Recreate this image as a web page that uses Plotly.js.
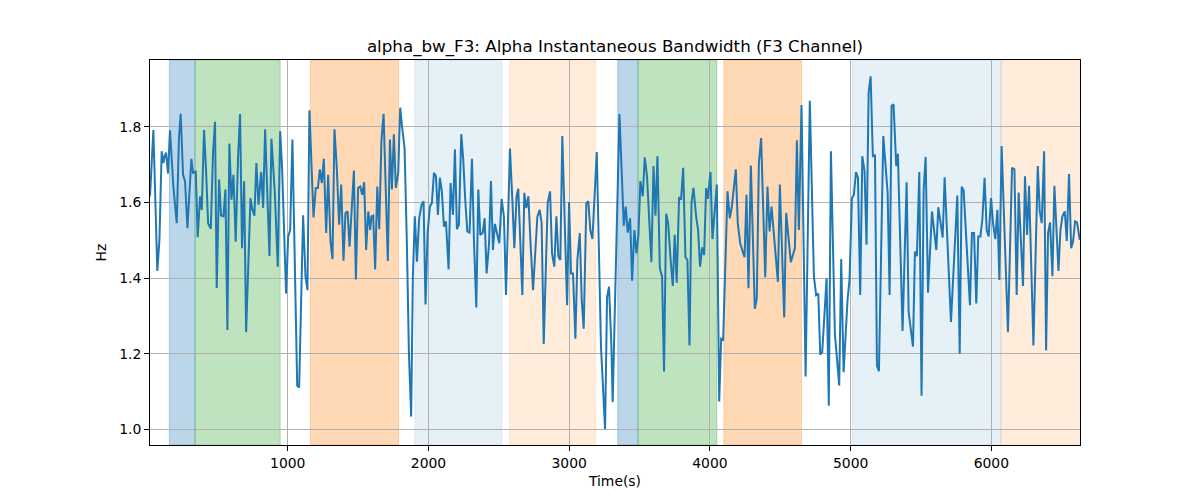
<!DOCTYPE html>
<html>
<head>
<meta charset="utf-8">
<script src="https://cdn.plot.ly/plotly-3.0.1.min.js"></script>
<style>
  body { margin: 0; background: #fff; }
  #chart { width: 1200px; height: 500px; }
</style>
</head>
<body>
<div id="chart"></div>
<script>
// time (s) and alpha bandwidth (Hz)
const timeS = [
  21, 45, 73, 88, 104, 116, 125, 135, 149, 163, 187, 211, 227, 239, 256, 270, 287, 315, 327, 346,
  360, 377, 389, 405, 419, 434, 453, 469, 483, 495, 512, 526, 543, 557, 571, 585, 600, 614, 630, 647,
  661, 675, 690, 704, 735, 749, 763, 777, 792, 811, 825, 839, 853, 870, 884, 908, 929, 946, 960, 988,
  1003, 1017, 1033, 1067, 1081, 1109, 1126, 1140, 1154, 1169, 1183, 1199, 1214, 1228, 1242, 1256, 1273, 1287, 1304, 1318,
  1332, 1349, 1365, 1380, 1396, 1410, 1425, 1439, 1455, 1470, 1484, 1500, 1515, 1529, 1543, 1557, 1572, 1586, 1595, 1607,
  1621, 1636, 1650, 1666, 1681, 1697, 1711, 1726, 1740, 1754, 1768, 1785, 1799, 1813, 1830, 1847, 1861, 1877, 1889, 1903,
  1918, 1934, 1951, 1965, 1979, 1994, 2010, 2024, 2039, 2053, 2067, 2081, 2095, 2110, 2124, 2143, 2157, 2174, 2188, 2202,
  2216, 2233, 2247, 2261, 2276, 2292, 2309, 2323, 2340, 2354, 2368, 2385, 2399, 2413, 2430, 2444, 2458, 2472, 2489, 2503,
  2520, 2536, 2551, 2565, 2579, 2596, 2610, 2626, 2638, 2667, 2681, 2695, 2710, 2724, 2743, 2774, 2790, 2804, 2819, 2847,
  2864, 2878, 2894, 2909, 2923, 2937, 2951, 2985, 2999, 3013, 3027, 3044, 3058, 3075, 3089, 3103, 3122, 3136, 3150, 3165,
  3181, 3196, 3226, 3241, 3255, 3269, 3283, 3300, 3309, 3357, 3371, 3388, 3402, 3416, 3433, 3447, 3463, 3478, 3492, 3506,
  3523, 3537, 3553, 3570, 3584, 3599, 3613, 3627, 3644, 3660, 3674, 3689, 3703, 3719, 3736, 3750, 3764, 3781, 3795, 3810,
  3826, 3840, 3855, 3869, 3883, 3902, 3916, 3930, 3945, 3959, 3973, 3985, 4004, 4018, 4035, 4049, 4066, 4080, 4094, 4125,
  4141, 4156, 4184, 4198, 4215, 4246, 4260, 4274, 4291, 4319, 4333, 4348, 4364, 4393, 4409, 4424, 4438, 4483, 4497, 4528,
  4542, 4575, 4604, 4618, 4632, 4651, 4680, 4710, 4739, 4755, 4770, 4784, 4798, 4829, 4845, 4860, 4888, 4919, 4933, 4950,
  4978, 4992, 5009, 5023, 5038, 5052, 5068, 5083, 5099, 5113, 5128, 5142, 5158, 5173, 5187, 5201, 5232, 5246, 5263, 5277,
  5291, 5305, 5324, 5336, 5369, 5398, 5412, 5443, 5457, 5471, 5488, 5504, 5519, 5533, 5550, 5578, 5592, 5609, 5623, 5654,
  5668, 5713, 5758, 5775, 5789, 5803, 5848, 5862, 5877, 5893, 5907, 5922, 5936, 5952, 5967, 5981, 5998, 6012, 6028, 6043,
  6057, 6073, 6118, 6147, 6164, 6180, 6194, 6225, 6239, 6254, 6268, 6299, 6330, 6344, 6358, 6375, 6389, 6403, 6417, 6434,
  6448, 6477, 6491, 6505, 6522, 6536, 6552, 6567, 6581, 6595, 6609, 6628
];

const alphaBw = [
  1.616, 1.791, 1.419, 1.501, 1.735, 1.704, 1.722, 1.731, 1.676, 1.790, 1.642, 1.545, 1.771, 1.834, 1.673, 1.656, 1.532, 1.715, 1.678, 1.681,
  1.508, 1.616, 1.580, 1.791, 1.687, 1.545, 1.530, 1.731, 1.813, 1.374, 1.660, 1.565, 1.563, 1.634, 1.263, 1.755, 1.607, 1.673, 1.496, 1.722,
  1.833, 1.479, 1.656, 1.257, 1.611, 1.580, 1.565, 1.704, 1.594, 1.680, 1.585, 1.793, 1.642, 1.458, 1.768, 1.625, 1.430, 1.788, 1.687, 1.359,
  1.510, 1.527, 1.766, 1.116, 1.111, 1.566, 1.404, 1.368, 1.843, 1.687, 1.560, 1.638, 1.638, 1.687, 1.651, 1.715, 1.519, 1.673, 1.494, 1.450,
  1.793, 1.687, 1.541, 1.647, 1.446, 1.572, 1.576, 1.483, 1.572, 1.684, 1.396, 1.638, 1.642, 1.620, 1.653, 1.474, 1.576, 1.527, 1.563, 1.565,
  1.423, 1.642, 1.529, 1.766, 1.834, 1.634, 1.445, 1.766, 1.634, 1.780, 1.638, 1.678, 1.850, 1.797, 1.744, 1.483, 1.200, 1.034, 1.404, 1.563,
  1.443, 1.558, 1.594, 1.603, 1.330, 1.519, 1.589, 1.598, 1.678, 1.669, 1.567, 1.665, 1.629, 1.536, 1.550, 1.423, 1.651, 1.567, 1.740, 1.529,
  1.541, 1.780, 1.713, 1.607, 1.523, 1.520, 1.715, 1.501, 1.322, 1.634, 1.514, 1.519, 1.558, 1.412, 1.488, 1.656, 1.474, 1.543, 1.519, 1.492,
  1.609, 1.563, 1.355, 1.519, 1.742, 1.607, 1.479, 1.616, 1.636, 1.355, 1.625, 1.585, 1.616, 1.501, 1.368, 1.563, 1.580, 1.545, 1.226, 1.598,
  1.629, 1.465, 1.430, 1.563, 1.457, 1.448, 1.775, 1.328, 1.600, 1.412, 1.412, 1.240, 1.448, 1.519, 1.342, 1.266, 1.598, 1.603, 1.527, 1.503,
  1.634, 1.733, 1.218, 1.107, 1.001, 1.350, 1.377, 1.218, 1.072, 1.833, 1.696, 1.538, 1.589, 1.520, 1.558, 1.393, 1.527, 1.465, 1.514, 1.656,
  1.616, 1.719, 1.669, 1.536, 1.442, 1.696, 1.565, 1.722, 1.426, 1.404, 1.153, 1.570, 1.545, 1.457, 1.379, 1.514, 1.388, 1.614, 1.607, 1.691,
  1.455, 1.448, 1.222, 1.598, 1.638, 1.563, 1.527, 1.430, 1.481, 1.461, 1.638, 1.609, 1.680, 1.503, 1.572, 1.647, 1.074, 1.240, 1.237, 1.629,
  1.558, 1.589, 1.687, 1.545, 1.492, 1.455, 1.620, 1.373, 1.697, 1.319, 1.346, 1.704, 1.770, 1.402, 1.642, 1.523, 1.589, 1.390, 1.647, 1.296,
  1.572, 1.442, 1.479, 1.764, 1.527, 1.857, 1.140, 1.868, 1.404, 1.355, 1.359, 1.198, 1.204, 1.399, 1.063, 1.735, 1.253, 1.116, 1.450, 1.151,
  1.342, 1.395, 1.611, 1.620, 1.680, 1.665, 1.355, 1.722, 1.682, 1.488, 1.890, 1.933, 1.722, 1.724, 1.169, 1.154, 1.775, 1.704, 1.625, 1.355,
  1.855, 1.859, 1.696, 1.728, 1.260, 1.653, 1.311, 1.219, 1.470, 1.458, 1.680, 1.089, 1.634, 1.720, 1.361, 1.576, 1.536, 1.474, 1.587, 1.507,
  1.666, 1.284, 1.618, 1.200, 1.641, 1.631, 1.328, 1.519, 1.519, 1.333, 1.510, 1.510, 1.554, 1.665, 1.527, 1.510, 1.611, 1.545, 1.503, 1.580,
  1.395, 1.749, 1.257, 1.691, 1.687, 1.355, 1.626, 1.379, 1.669, 1.514, 1.644, 1.222, 1.696, 1.576, 1.545, 1.735, 1.209, 1.519, 1.547, 1.405,
  1.644, 1.419, 1.527, 1.563, 1.576, 1.498, 1.675, 1.479, 1.497, 1.550, 1.547, 1.501
];

// shaded segments
const spanStart = [159, 341, 1161, 1903, 2577, 3345, 3489, 4099, 5011, 6069];
const spanEnd = [341, 946, 1787, 2520, 3188, 3489, 4049, 4651, 6069, 6640];
const spanColor = [
  "rgba(31,119,180,0.3)", "rgba(44,160,44,0.3)", "rgba(255,127,14,0.3)",
  "rgba(31,119,180,0.11)", "rgba(255,127,14,0.15)",
  "rgba(31,119,180,0.3)", "rgba(44,160,44,0.3)", "rgba(255,127,14,0.3)",
  "rgba(31,119,180,0.11)", "rgba(255,127,14,0.15)"
];

const font = "DejaVu Sans, sans-serif";

const shapes = spanStart.map((s, i) => ({
  type: "rect",
  xref: "x",
  yref: "paper",
  x0: s,
  x1: spanEnd[i],
  y0: 0,
  y1: 1,
  fillcolor: spanColor[i],
  line: { color: spanColor[i], width: 1 },
  layer: "below",
}));

const trace = {
  x: timeS,
  y: alphaBw,
  mode: "lines",
  line: { color: "#1f77b4", width: 2 },
  hoverinfo: "skip",
};

const axisCommon = {
  showline: true,
  mirror: true,
  linecolor: "#000",
  linewidth: 1,
  ticks: "outside",
  ticklen: 5,
  tickcolor: "#000",
  showgrid: true,
  gridcolor: "#b0b0b0",
  gridwidth: 1,
  zeroline: false,
  tickfont: { family: font, size: 13.9, color: "#000" },
};

const layout = {
  width: 1200,
  height: 500,
  margin: { l: 150, r: 120, t: 60, b: 55 },
  paper_bgcolor: "#fff",
  plot_bgcolor: "#fff",
  showlegend: false,
  title: {
    text: "alpha_bw_F3: Alpha Instantaneous Bandwidth (F3 Channel)",
    font: { family: font, size: 16.7, color: "#000" },
    x: 0.5125,
    xanchor: "center",
    yref: "container",
    y: 0.908,
    yanchor: "middle",
  },
  xaxis: {
    ...axisCommon,
    range: [21, 6630],
    tickvals: [1000, 2000, 3000, 4000, 5000, 6000],
    title: { text: "Time(s)", font: { family: font, size: 13.9, color: "#000" }, standoff: 6 },
  },
  yaxis: {
    ...axisCommon,
    range: [0.959, 1.976],
    tickvals: [1.0, 1.2, 1.4, 1.6, 1.8],
    tickformat: ".1f",
    title: { text: "Hz", font: { family: font, size: 13.9, color: "#000" }, standoff: 9 },
  },
  shapes,
};

Plotly.newPlot("chart", [trace], layout, { displayModeBar: false, staticPlot: true });
</script>
</body>
</html>
